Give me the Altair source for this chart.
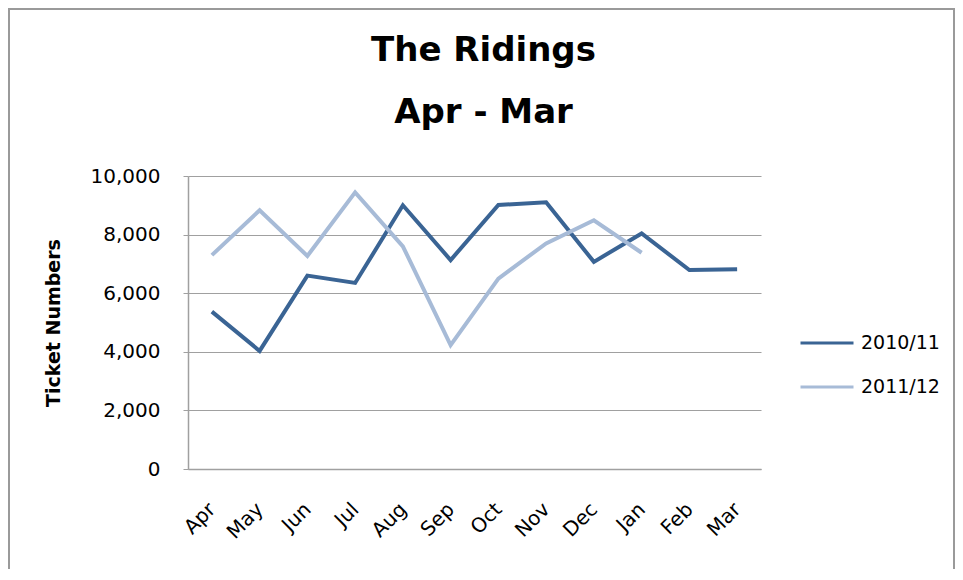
import altair as alt
import pandas as pd

months = ["Apr", "May", "Jun", "Jul", "Aug", "Sep", "Oct", "Nov", "Dec", "Jan", "Feb", "Mar"]
s2010 = [5370, 4030, 6600, 6350, 9000, 7130, 9010, 9100, 7070, 8040, 6790, 6820]
s2011 = [7300, 8830, 7270, 9440, 7600, 4230, 6500, 7700, 8490, 7380, None, None]
series_names = ["2010/11", "2011/12"]
colors = ["#3A6494", "#A7BBD7"]
y_ticks = [0, 2000, 4000, 6000, 8000, 10000]

rows = []
for name, vals in zip(series_names, [s2010, s2011]):
    for m, v in zip(months, vals):
        if v is not None:
            rows.append({"Month": m, "Series": name, "Tickets": v})
df = pd.DataFrame(rows)

W, H = 573, 293
PL, PT, PR, PB = 180, 168, 194, 100
FONT = "DejaVu Sans"
GRID = "#A0A0A0"

lines = alt.Chart(df).mark_line(strokeWidth=4).encode(
    x=alt.X(
        "Month:N",
        sort=months,
        scale=alt.Scale(type="point", padding=0.5),
        axis=alt.Axis(
            title=None,
            labelAngle=-45,
            labelAlign="right",
            labelBaseline="middle",
            labelPadding=37,
            labelFont=FONT,
            labelFontSize=20,
            labelColor="black",
            ticks=False,
            grid=False,
            domainColor=GRID,
            domainWidth=1.5,
        ),
    ),
    y=alt.Y(
        "Tickets:Q",
        scale=alt.Scale(domain=[0, 10000]),
        axis=alt.Axis(
            values=y_ticks,
            format=",d",
            labelFont=FONT,
            labelFontSize=20,
            labelColor="black",
            labelPadding=23,
            tickSize=5,
            tickColor=GRID,
            domainColor=GRID,
            domainWidth=1.5,
            gridColor=GRID,
            gridWidth=1.2,
            title="Ticket Numbers",
            titleFont=FONT,
            titleFontSize=19,
            titleFontWeight="bold",
            titleColor="black",
            titleAngle=-90,
            titleX=-135,
            titleY=H / 2,
            titleAlign="center",
            titleBaseline="middle",
        ),
    ),
    color=alt.Color(
        "Series:N",
        scale=alt.Scale(domain=series_names, range=colors),
        legend=alt.Legend(
            title=None,
            orient="none",
            legendX=611,
            legendY=139,
            symbolType="stroke",
            symbolSize=2809,
            symbolStrokeWidth=3,
            labelFont=FONT,
            labelFontSize=19,
            labelColor="black",
            labelOffset=6,
            rowPadding=6,
        ),
    ),
)

frame = alt.Chart(pd.DataFrame({"f": [0]})).mark_rect(
    filled=False, stroke="#9A9A9A", strokeWidth=2
).encode(
    x=alt.value(-PL + 1),
    x2=alt.value(W + PR - 1),
    y=alt.value(-PT + 1),
    y2=alt.value(H + PB + 30),
)

chart = alt.layer(frame, lines).properties(
    width=W,
    height=H,
    autosize=alt.AutoSizeParams(type="none"),
    padding={"left": PL, "top": PT, "right": PR, "bottom": PB},
    title=alt.TitleParams(
        text=["The Ridings", "Apr - Mar"],
        font=FONT,
        fontSize=34,
        fontWeight="bold",
        color="black",
        anchor="middle",
        frame="group",
        baseline="bottom",
        lineHeight=62,
        offset=-156,
        dx=9,
    ),
).configure_view(stroke=None)

chart.save("out.html", embed_options={"renderer": "svg", "actions": False})
